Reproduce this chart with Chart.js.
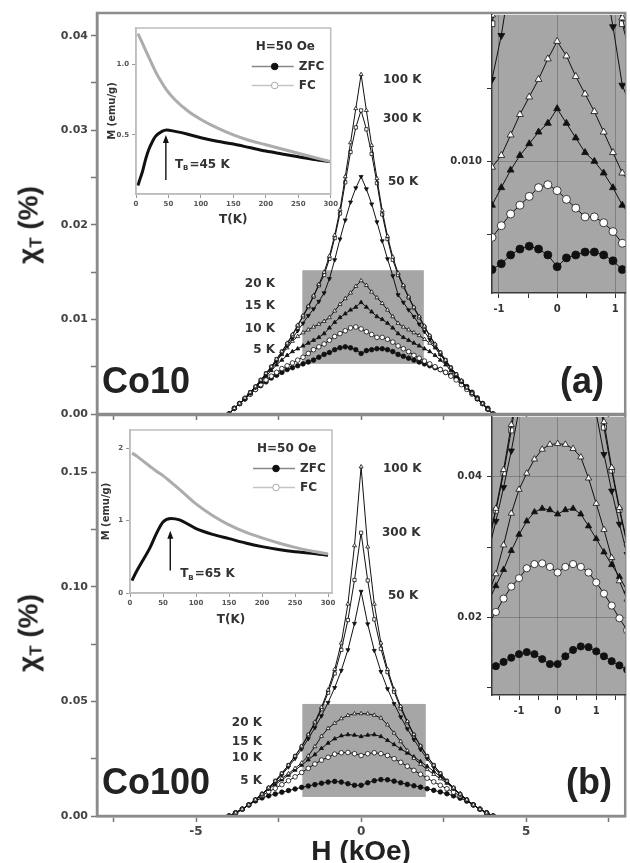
<!DOCTYPE html>
<html>
<head>
<meta charset="utf-8">
<script src="https://cdn.jsdelivr.net/npm/chart.js@4.4.1/dist/chart.umd.min.js"></script>
<style>
  body { margin: 0; background: #fff; width: 630px; height: 863px; position: relative; overflow: hidden; }
  canvas { position: absolute; }
  .lbl { position: absolute; font: bold 12px 'DejaVu Sans', sans-serif; color: #333; white-space: nowrap; line-height: 1; }
  .big { position: absolute; font: bold 36px 'Liberation Sans', Arial, sans-serif; color: #222; line-height: 1; }
  .ytitle { position: absolute; transform: translate(-50%, -50%) rotate(-90deg); font: bold 28px 'Liberation Sans', Arial, sans-serif; color: #222; white-space: nowrap; line-height: 1; }
  .ytitle sub { font-size: 0.6em; vertical-align: -0.25em; }
</style>
</head>
<body>
<canvas id="mainA" width="630" height="430" style="left:0;top:0"></canvas>
<canvas id="mainB" width="630" height="463" style="left:0;top:400px"></canvas>
<canvas id="insLA" width="252" height="212" style="left:88px;top:20px"></canvas>
<canvas id="insLB" width="258" height="212" style="left:82px;top:420px"></canvas>
<canvas id="insRA" width="200" height="320" style="left:430px;top:0"></canvas>
<canvas id="insRB" width="200" height="320" style="left:430px;top:400px"></canvas>

<div class="ytitle" style="left:30px;top:225px">χ<sub>T</sub> (%)</div>
<div class="ytitle" style="left:30px;top:633px">χ<sub>T</sub> (%)</div>

<div class="lbl" style="left:383px;top:73px">100 K</div>
<div class="lbl" style="left:383px;top:112px">300 K</div>
<div class="lbl" style="left:388px;top:175px">50 K</div>
<div class="lbl" style="right:355px;top:277px">20 K</div>
<div class="lbl" style="right:355px;top:299px">15 K</div>
<div class="lbl" style="right:355px;top:322px">10 K</div>
<div class="lbl" style="right:355px;top:343px">5 K</div>

<div class="lbl" style="left:383px;top:462px">100 K</div>
<div class="lbl" style="left:382px;top:526px">300 K</div>
<div class="lbl" style="left:388px;top:589px">50 K</div>
<div class="lbl" style="right:368px;top:716px">20 K</div>
<div class="lbl" style="right:368px;top:735px">15 K</div>
<div class="lbl" style="right:368px;top:751px">10 K</div>
<div class="lbl" style="right:368px;top:774px">5 K</div>

<div class="big" style="left:102px;top:363px">Co10</div>
<div class="big" style="left:560px;top:363px">(a)</div>
<div class="big" style="left:102px;top:764px">Co100</div>
<div class="big" style="left:566px;top:764px">(b)</div>

<script>
// 1. DATA - panel (a), Co10 : field step 0.16 kOe
const H_A = [-4.00,-3.84,-3.68,-3.52,-3.36,-3.20,-3.04,-2.88,-2.72,-2.56,-2.40,-2.24,-2.08,-1.92,-1.76,-1.60,-1.44,-1.28,-1.12,-0.96,-0.80,-0.64,-0.48,-0.32,-0.16,0,
  0.16,0.32,0.48,0.64,0.80,0.96,1.12,1.28,1.44,1.60,1.76,1.92,2.08,2.24,2.40,2.56,2.72,2.88,3.04,3.20,3.36,3.52,3.68,3.84,4.00];
const a100 = [0.0000,0.0006,0.0011,0.0017,0.0023,0.0029,0.0036,0.0043,0.0050,0.0058,0.0066,0.0075,0.0084,0.0094,0.0104,0.0114,0.0125,0.0137,0.0150,0.0167,0.0189,0.0216,0.0251,0.0287,0.0323,0.0359,
  0.0321,0.0284,0.0249,0.0215,0.0188,0.0166,0.0149,0.0136,0.0124,0.0113,0.0103,0.0093,0.0083,0.0074,0.0065,0.0057,0.0049,0.0042,0.0035,0.0028,0.0022,0.0016,0.0011,0.0005,0.0000];
const a300 = [0.0000,0.0006,0.0011,0.0017,0.0023,0.0029,0.0036,0.0043,0.0050,0.0058,0.0066,0.0074,0.0083,0.0093,0.0103,0.0113,0.0124,0.0136,0.0147,0.0164,0.0186,0.0212,0.0245,0.0277,0.0303,0.0321,
  0.0301,0.0275,0.0244,0.0211,0.0185,0.0163,0.0147,0.0135,0.0123,0.0112,0.0102,0.0092,0.0082,0.0073,0.0065,0.0057,0.0049,0.0042,0.0035,0.0028,0.0022,0.0016,0.0011,0.0005,0.0000];
const a50 = [0.0000,0.0006,0.0011,0.0016,0.0022,0.0028,0.0035,0.0042,0.0049,0.0056,0.0064,0.0072,0.0080,0.0088,0.0096,0.0104,0.0111,0.0119,0.0128,0.0143,0.0163,0.0185,0.0205,0.0224,0.0239,0.0251,
  0.0238,0.0222,0.0203,0.0183,0.0164,0.0146,0.0126,0.0118,0.0110,0.0103,0.0095,0.0087,0.0079,0.0071,0.0063,0.0055,0.0048,0.0041,0.0034,0.0028,0.0022,0.0016,0.0011,0.0005,0.0000];
const a20 = [0.0000,0.0006,0.0011,0.0016,0.0022,0.0028,0.0035,0.0042,0.0049,0.0056,0.0063,0.0070,0.0077,0.0082,0.0086,0.0089,0.0092,0.0095,0.0098,0.0102,0.0109,0.0116,0.0122,0.0128,0.0135,0.0141,
  0.0136,0.0129,0.0123,0.0117,0.0110,0.0103,0.0096,0.0092,0.0089,0.0086,0.0083,0.0079,0.0075,0.0070,0.0063,0.0056,0.0049,0.0042,0.0035,0.0028,0.0022,0.0016,0.0011,0.0005,0.0000];
const a15 = [0.0000,0.0006,0.0011,0.0016,0.0022,0.0028,0.0034,0.0040,0.0046,0.0052,0.0057,0.0062,0.0066,0.0069,0.0072,0.0075,0.0078,0.0081,0.0085,0.0091,0.0097,0.0102,0.0106,0.0110,0.0113,0.0118,
  0.0113,0.0108,0.0103,0.0100,0.0096,0.0091,0.0085,0.0081,0.0078,0.0075,0.0072,0.0069,0.0066,0.0062,0.0057,0.0052,0.0046,0.0040,0.0034,0.0028,0.0022,0.0016,0.0011,0.0005,0.0000];
const a10 = [0.0000,0.0006,0.0011,0.0016,0.0021,0.0026,0.0031,0.0036,0.0040,0.0044,0.0048,0.0051,0.0054,0.0057,0.0060,0.0064,0.0068,0.0071,0.0074,0.0078,0.0082,0.0085,0.0088,0.0091,0.0092,0.0090,
  0.0087,0.0084,0.0081,0.0081,0.0079,0.0076,0.0072,0.0069,0.0066,0.0062,0.0059,0.0056,0.0053,0.0050,0.0047,0.0044,0.0040,0.0036,0.0031,0.0026,0.0021,0.0016,0.0011,0.0005,0.0000];
const a5 = [0.0000,0.0006,0.0011,0.0016,0.0021,0.0026,0.0030,0.0034,0.0038,0.0041,0.0044,0.0047,0.0049,0.0051,0.0053,0.0055,0.0057,0.0060,0.0063,0.0065,0.0068,0.0070,0.0071,0.0070,0.0068,0.0064,
  0.0067,0.0068,0.0069,0.0069,0.0068,0.0066,0.0063,0.0061,0.0059,0.0057,0.0055,0.0053,0.0051,0.0049,0.0047,0.0044,0.0041,0.0038,0.0034,0.0029,0.0023,0.0017,0.0011,0.0006,0.0000];

// panel (b), Co100 : field step 0.2 kOe
const H_B = [-4.0,-3.8,-3.6,-3.4,-3.2,-3.0,-2.8,-2.6,-2.4,-2.2,-2.0,-1.8,-1.6,-1.4,-1.2,-1.0,-0.8,-0.6,-0.4,-0.2,0,
  0.2,0.4,0.6,0.8,1.0,1.2,1.4,1.6,1.8,2.0,2.2,2.4,2.6,2.8,3.0,3.2,3.4,3.6,3.8,4.0];
const b100 = [0,0.0014,0.0030,0.0049,0.0071,0.0096,0.0123,0.0153,0.0186,0.0222,0.0262,0.0305,0.0355,0.0410,0.0474,0.0550,0.0640,0.0755,0.0925,0.1180,0.1524,
  0.1175,0.0925,0.0755,0.0640,0.0552,0.0478,0.0413,0.0356,0.0306,0.0262,0.0222,0.0186,0.0153,0.0123,0.0096,0.0071,0.0049,0.0030,0.0014,0];
const b300 = [0,0.0014,0.0030,0.0049,0.0071,0.0096,0.0123,0.0153,0.0186,0.0222,0.0261,0.0303,0.0352,0.0405,0.0466,0.0538,0.0622,0.0725,0.0855,0.1030,0.1236,
  0.1028,0.0858,0.0730,0.0628,0.0542,0.0470,0.0409,0.0353,0.0304,0.0261,0.0222,0.0186,0.0153,0.0123,0.0096,0.0071,0.0049,0.0030,0.0014,0];
const b50 = [0,0.0014,0.0030,0.0049,0.0070,0.0094,0.0120,0.0149,0.0180,0.0214,0.0251,0.0292,0.0337,0.0385,0.0437,0.0495,0.0560,0.0635,0.0725,0.0840,0.0980,
  0.0838,0.0722,0.0630,0.0555,0.0490,0.0432,0.0380,0.0333,0.0290,0.0250,0.0213,0.0179,0.0148,0.0119,0.0093,0.0069,0.0048,0.0029,0.0014,0];
const b20 = [0,0.0014,0.0030,0.0049,0.0071,0.0096,0.0122,0.0145,0.0165,0.0185,0.0208,0.0232,0.0262,0.0303,0.0348,0.0382,0.0405,0.0425,0.0439,0.0446,0.0447,
  0.0446,0.0440,0.0428,0.0398,0.0362,0.0325,0.0285,0.0252,0.0226,0.0203,0.0182,0.0163,0.0143,0.0121,0.0096,0.0071,0.0049,0.0030,0.0014,0];
const b15 = [0,0.0014,0.0030,0.0049,0.0071,0.0096,0.0118,0.0138,0.0158,0.0178,0.0200,0.0222,0.0245,0.0268,0.0295,0.0318,0.0337,0.0350,0.0355,0.0353,0.0347,
  0.0353,0.0355,0.0347,0.0330,0.0312,0.0293,0.0275,0.0258,0.0238,0.0217,0.0195,0.0172,0.0148,0.0121,0.0096,0.0071,0.0049,0.0030,0.0014,0];
const b10 = [0,0.0014,0.0030,0.0049,0.0070,0.0090,0.0106,0.0121,0.0137,0.0154,0.0171,0.0190,0.0208,0.0227,0.0244,0.0256,0.0270,0.0276,0.0277,0.0272,0.0264,
  0.0272,0.0276,0.0272,0.0264,0.0250,0.0234,0.0217,0.0199,0.0182,0.0165,0.0149,0.0134,0.0119,0.0104,0.0088,0.0070,0.0049,0.0030,0.0014,0];
const b5 = [0,0.0014,0.0030,0.0048,0.0066,0.0079,0.0088,0.0096,0.0104,0.0111,0.0118,0.0125,0.0131,0.0137,0.0143,0.0148,0.0151,0.0148,0.0141,0.0134,0.0134,
  0.0145,0.0154,0.0159,0.0158,0.0152,0.0145,0.0138,0.0132,0.0126,0.0119,0.0112,0.0105,0.0097,0.0088,0.0078,0.0065,0.0048,0.0030,0.0014,0];

// M(T) insets, H = 50 Oe
const T_A   = [3,5,10,15,20,25,30,40,47,60,80,100,125,150,175,200,225,250,275,300];
const zfcA  = [0.14,0.17,0.24,0.33,0.40,0.45,0.49,0.525,0.535,0.525,0.505,0.48,0.455,0.435,0.41,0.385,0.365,0.345,0.325,0.31];
const fcA   = [1.22,1.20,1.15,1.10,1.05,1.00,0.95,0.87,0.82,0.75,0.67,0.61,0.55,0.50,0.46,0.43,0.40,0.37,0.34,0.31];
const T_B   = [3,5,10,20,30,40,50,62,75,100,125,150,175,200,225,250,275,300];
const zfcB  = [0.17,0.21,0.30,0.46,0.62,0.82,0.98,1.03,1.01,0.89,0.81,0.75,0.69,0.64,0.60,0.57,0.55,0.52];
const fcB   = [1.93,1.92,1.89,1.82,1.75,1.68,1.62,1.53,1.43,1.23,1.07,0.94,0.84,0.76,0.69,0.63,0.58,0.54];

// tick lists
const xTicksMain  = [-7.5,-5,-2.5,0,2.5,5,7.5];
const xLabelsMain = [-5,0,5];
const yTicksA  = [0,0.005,0.01,0.015,0.02,0.025,0.03,0.035,0.04];
const yLabelsA = [0,0.01,0.02,0.03,0.04];
const yTicksB  = [0,0.025,0.05,0.075,0.1,0.125,0.15];
const yLabelsB = [0,0.05,0.1,0.15];
const xTicksRA = [-1,-0.5,0,0.5,1];
const xTicksRB = [-1.5,-1,-0.5,0,0.5,1,1.5];
const xLabelsR = [-1,0,1];
const yTicksRA = [0.0075,0.01,0.0125];
const yLabelsRA = [0.01];
const yTicksRB = [0.01,0.02,0.03,0.04];
const yLabelsRB = [0.02,0.04];
const tTicks = [0,50,100,150,200,250,300];

// 2. STYLES
Chart.defaults.font.family = "'DejaVu Sans', sans-serif";

const MARKERS = {
  '100 K': { shape: 'triangle', fill: '#ffffff', rot: 0 },
  '300 K': { shape: 'rect',     fill: '#ffffff', rot: 0 },
  '50 K':  { shape: 'triangle', fill: '#111111', rot: 180 },
  '20 K':  { shape: 'triangle', fill: '#ffffff', rot: 0 },
  '15 K':  { shape: 'triangle', fill: '#111111', rot: 0 },
  '10 K':  { shape: 'circle',   fill: '#ffffff', rot: 0 },
  '5 K':   { shape: 'circle',   fill: '#111111', rot: 0 }
};

const listA = [['100 K', a100], ['300 K', a300], ['50 K', a50], ['20 K', a20], ['15 K', a15], ['10 K', a10], ['5 K', a5]];
const listB = [['100 K', b100], ['300 K', b300], ['50 K', b50], ['20 K', b20], ['15 K', b15], ['10 K', b10], ['5 K', b5]];

function curveSets(H, list, r) {
  return list.map(([name, vals]) => {
    const st = MARKERS[name];
    return {
      label: name,
      data: H.map((h, i) => ({ x: h, y: vals[i] })),
      borderColor: '#111', borderWidth: 1,
      pointStyle: st.shape, pointRotation: st.rot,
      pointBackgroundColor: st.fill, pointBorderColor: '#111', pointBorderWidth: 0.8,
      pointRadius: r, tension: 0, clip: 0
    };
  });
}

const near = (arr, v) => arr.some(a => Math.abs(a - v) < 1e-9);

// 3. PLUGIN : fond, rectangle gris, cadre, flèche, légende
const decor = {
  id: 'decor',
  beforeDraw(chart, args, o) {
    if (!o.bg) return;
    const a = chart.chartArea, ctx = chart.ctx;
    ctx.save();
    ctx.fillStyle = o.bg;
    ctx.fillRect(a.left, a.top, a.right - a.left, a.bottom - a.top);
    ctx.restore();
  },
  beforeDatasetsDraw(chart, args, o) {
    if (!o.box) return;
    const x = chart.scales.x, y = chart.scales.y, ctx = chart.ctx;
    const x0 = x.getPixelForValue(o.box[0]), x1 = x.getPixelForValue(o.box[1]);
    const y0 = y.getPixelForValue(o.box[2]), y1 = y.getPixelForValue(o.box[3]);
    ctx.save();
    ctx.fillStyle = o.boxColor;
    ctx.fillRect(x0, y1, x1 - x0, y0 - y1);
    ctx.restore();
  },
  afterDatasetsDraw(chart, args, o) {
    const ctx = chart.ctx, a = chart.chartArea;
    if (o.arrow) {
      const x = chart.scales.x, y = chart.scales.y;
      const px = x.getPixelForValue(o.arrow.t);
      const yb = y.getPixelForValue(o.arrow.from), yt = y.getPixelForValue(o.arrow.to);
      ctx.save();
      ctx.strokeStyle = '#111'; ctx.fillStyle = '#111'; ctx.lineWidth = 1.4;
      ctx.beginPath(); ctx.moveTo(px, yb); ctx.lineTo(px, yt + 6); ctx.stroke();
      ctx.beginPath(); ctx.moveTo(px, yt); ctx.lineTo(px - 3, yt + 8); ctx.lineTo(px + 3, yt + 8); ctx.closePath(); ctx.fill();
      let lx = x.getPixelForValue(o.arrow.lt);
      const ly = y.getPixelForValue(o.arrow.lm);
      ctx.fillStyle = '#333';
      ctx.textBaseline = 'middle';
      ctx.font = "bold 12px 'DejaVu Sans'";
      ctx.fillText('T', lx, ly); lx += ctx.measureText('T').width;
      ctx.font = "bold 7px 'DejaVu Sans'";
      ctx.fillText('B', lx, ly + 4); lx += ctx.measureText('B').width + 1;
      ctx.font = "bold 12px 'DejaVu Sans'";
      ctx.fillText(o.arrow.text, lx, ly);
      ctx.restore();
    }
    if (o.legend) {
      const r = a.right, t = a.top;
      ctx.save();
      ctx.textBaseline = 'middle';
      ctx.fillStyle = '#333';
      ctx.font = "bold 12px 'DejaVu Sans'";
      ctx.fillText('H=50 Oe', r - 75, t + 19);
      const rows = [['ZFC', '#888', '#111', 38.5], ['FC', '#c4c4c4', '#fff', 57.5]];
      rows.forEach(([txt, lc, fill, dy]) => {
        ctx.strokeStyle = lc; ctx.lineWidth = 1.5;
        ctx.beginPath(); ctx.moveTo(r - 79, t + dy); ctx.lineTo(r - 37, t + dy); ctx.stroke();
        ctx.beginPath(); ctx.arc(r - 56, t + dy, 3.3, 0, Math.PI * 2);
        ctx.fillStyle = fill; ctx.fill();
        ctx.strokeStyle = fill === '#fff' ? '#aaa' : '#111'; ctx.lineWidth = 1; ctx.stroke();
        ctx.fillStyle = '#333';
        ctx.fillText(txt, r - 32, t + dy);
      });
      ctx.restore();
    }
  },
  afterDraw(chart, args, o) {
    if (!o.frame) return;
    const a = chart.chartArea, ctx = chart.ctx;
    ctx.save();
    ctx.strokeStyle = o.frame; ctx.lineWidth = o.frameWidth;
    ctx.strokeRect(a.left, a.top, a.right - a.left, a.bottom - a.top);
    ctx.restore();
  }
};

// 4. PANNEAUX PRINCIPAUX
function buildMain(id, H, list, cfg) {
  return new Chart(document.getElementById(id), {
    type: 'line',
    data: { datasets: curveSets(H, list, 2.3) },
    plugins: [decor],
    options: {
      responsive: false, animation: false,
      layout: { padding: { top: cfg.top, right: 1, left: 0, bottom: 0 } },
      scales: {
        x: {
          type: 'linear', min: -8, max: 8,
          afterBuildTicks: s => { s.ticks = xTicksMain.map(v => ({ value: v })); },
          afterFit: s => { s.height = cfg.xh; },
          ticks: { autoSkip: false, maxRotation: 0, padding: 3, color: '#444', font: { size: 12, weight: 'bold' },
                   callback: v => (cfg.xlabels && near(xLabelsMain, v)) ? String(v) : '' },
          grid: { drawOnChartArea: false, tickLength: 6, tickColor: '#777', tickWidth: 1.5 },
          border: { color: '#8c8c8c', width: 2.5 },
          title: cfg.xlabels ? { display: true, text: 'H (kOe)', color: '#222',
                   font: { family: "'Liberation Sans', Arial", size: 28, weight: 'bold', lineHeight: 0.8 }, padding: 0 }
                 : { display: false }
        },
        y: {
          type: 'linear', min: 0, max: cfg.ymax,
          afterBuildTicks: s => { s.ticks = cfg.yticks.map(v => ({ value: v })); },
          afterFit: s => { s.width = 97; },
          ticks: { autoSkip: false, padding: 3, color: '#444', font: { size: 11, weight: 'bold' },
                   callback: v => near(cfg.ylabels, v) ? v.toFixed(2) : '' },
          grid: { drawOnChartArea: false, tickLength: 6, tickColor: '#777', tickWidth: 1.5 },
          border: { color: '#8c8c8c', width: 2.5 }
        }
      },
      plugins: {
        legend: { display: false }, tooltip: { enabled: false },
        decor: { frame: '#8c8c8c', frameWidth: 2.5, box: cfg.box, boxColor: '#a6a6a6' }
      }
    }
  });
}

// 5. ZOOMS (encarts gris à droite)
function buildZoom(id, H, list, cfg) {
  return new Chart(document.getElementById(id), {
    type: 'line',
    data: { datasets: curveSets(H, list, cfg.r) },
    plugins: [decor],
    options: {
      responsive: false, animation: false,
      layout: { padding: { top: cfg.top, right: 0, left: 0, bottom: 0 } },
      scales: {
        x: {
          type: 'linear', min: cfg.xmin, max: cfg.xmax,
          afterBuildTicks: s => { s.ticks = cfg.xt.map(v => ({ value: v })); },
          afterFit: s => { s.height = cfg.xh; },
          ticks: { autoSkip: false, maxRotation: 0, padding: 5, color: '#333', font: { size: 10, weight: 'bold' },
                   callback: v => near(xLabelsR, v) ? String(v) : '' },
          grid: { color: c => (c.tick && near(xLabelsR, c.tick.value)) ? 'rgba(60,60,60,0.35)' : 'rgba(0,0,0,0)',
                  tickColor: '#333', tickLength: 5 },
          border: { color: '#3a3a3a', width: 1.5 }
        },
        y: {
          type: 'linear', min: cfg.ymin, max: cfg.ymax,
          afterBuildTicks: s => { s.ticks = cfg.yt.map(v => ({ value: v })); },
          afterFit: s => { s.width = 62; },
          ticks: { autoSkip: false, padding: 5, color: '#333', font: { size: 10, weight: 'bold' },
                   callback: v => near(cfg.yl, v) ? v.toFixed(cfg.yd) : '' },
          grid: { color: c => (c.tick && near(cfg.yl, c.tick.value)) ? 'rgba(60,60,60,0.35)' : 'rgba(0,0,0,0)',
                  tickColor: '#333', tickLength: 5 },
          border: { color: '#3a3a3a', width: 1.5 }
        }
      },
      plugins: { legend: { display: false }, tooltip: { enabled: false }, decor: { bg: '#a6a6a6' } }
    }
  });
}

// 6. ENCARTS M(T)
function buildMT(id, T, zfc, fc, cfg) {
  return new Chart(document.getElementById(id), {
    type: 'line',
    data: {
      datasets: [
        { label: 'FC', data: T.map((t, i) => ({ x: t, y: fc[i] })), borderColor: '#acacac', borderWidth: 3,
          pointRadius: 0, cubicInterpolationMode: 'monotone' },
        { label: 'ZFC', data: T.map((t, i) => ({ x: t, y: zfc[i] })), borderColor: '#111', borderWidth: 3,
          pointRadius: 0, cubicInterpolationMode: 'monotone' }
      ]
    },
    plugins: [decor],
    options: {
      responsive: false, animation: false,
      layout: { padding: { top: cfg.top, right: cfg.right, left: 0, bottom: 0 } },
      scales: {
        x: {
          type: 'linear', min: 0, max: cfg.tmax,
          afterBuildTicks: s => { s.ticks = tTicks.map(v => ({ value: v })); },
          afterFit: s => { s.height = cfg.xh; },
          ticks: { autoSkip: false, maxRotation: 0, padding: 2, color: '#555', font: { size: 7, weight: 'bold' } },
          grid: { drawOnChartArea: false, tickLength: 4, tickColor: '#999' },
          border: { color: '#bdbdbd', width: 1.5 },
          title: { display: true, text: 'T(K)', color: '#333', font: { size: 12, weight: 'bold', lineHeight: 1.2 },
                   padding: { top: 0, bottom: 5 } }
        },
        y: {
          type: 'linear', min: cfg.ymin, max: cfg.ymax,
          afterBuildTicks: s => { s.ticks = cfg.yt.map(v => ({ value: v })); },
          afterFit: s => { s.width = 48; },
          ticks: { autoSkip: false, padding: 3, color: '#555', font: { size: 7, weight: 'bold' },
                   callback: v => v.toFixed(cfg.yd) },
          grid: { drawOnChartArea: false, tickLength: 4, tickColor: '#999' },
          border: { color: '#bdbdbd', width: 1.5 },
          title: { display: true, text: 'M (emu/g)', color: '#333', font: { size: 10, weight: 'bold', lineHeight: 1.2 },
                   padding: { top: 18, bottom: 0 } }
        }
      },
      plugins: {
        legend: { display: false }, tooltip: { enabled: false },
        decor: { bg: '#ffffff', frame: '#bdbdbd', frameWidth: 1.5, arrow: cfg.arrow, legend: true }
      }
    }
  });
}

// LANCEMENT
buildMain('mainA', H_A, listA, { top: 13, xh: 16, ymax: 0.0424, yticks: yTicksA, ylabels: yLabelsA,
  xlabels: false, box: [-1.78, 1.9, 0.0053, 0.0152] });
buildMain('mainB', H_B, listB, { top: 15, xh: 47, ymax: 0.175, yticks: yTicksB, ylabels: yLabelsB,
  xlabels: true, box: [-1.78, 1.96, 0.0083, 0.0489] });

buildMT('insLA', T_A, zfcA, fcA, { top: 8, right: 8, xh: 38, tmax: 300, ymin: 0.08, ymax: 1.26, yt: [0.5, 1.0], yd: 1,
  arrow: { t: 46, from: 0.18, to: 0.50, lt: 60, lm: 0.29, text: '=45 K' } });
buildMT('insLB', T_B, zfcB, fcB, { top: 10, right: 8, xh: 39, tmax: 306, ymin: 0, ymax: 2.25, yt: [0, 1, 2], yd: 0,
  arrow: { t: 61, from: 0.31, to: 0.86, lt: 76, lm: 0.26, text: '=65 K' } });

buildZoom('insRA', H_A, listA, { top: 15, xh: 27, r: 4, xmin: -1.12, xmax: 1.17, ymin: 0.0055, ymax: 0.0150,
  xt: xTicksRA, yt: yTicksRA, yl: yLabelsRA, yd: 3 });
buildZoom('insRB', H_B, listB, { top: 17, xh: 25, r: 3.6, xmin: -1.7, xmax: 1.75, ymin: 0.009, ymax: 0.0485,
  xt: xTicksRB, yt: yTicksRB, yl: yLabelsRB, yd: 2 });
</script>
</body>
</html>
